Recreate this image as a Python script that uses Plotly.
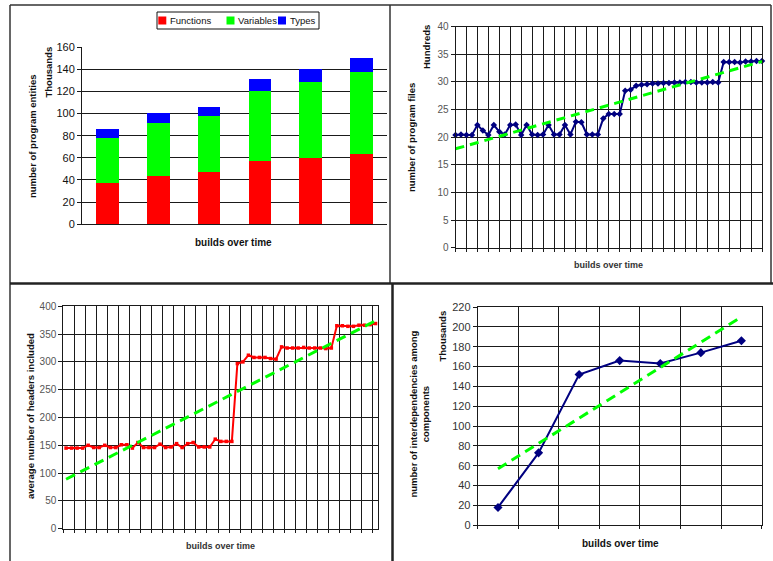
import plotly.graph_objects as go

W, H = 773, 561

# ---------------- data ----------------
# top-left: program entities (thousands) per build
entity_builds = ["build 1", "build 2", "build 3", "build 4", "build 5", "build 6"]
functions = [37, 44, 47, 57, 60, 63]
variables = [41, 47, 51, 63, 68, 74]
types_ = [8, 9, 8, 11, 12, 13]

# top-right: number of program files (hundreds)
program_files = [20.4, 20.5, 20.4, 20.4, 22.2, 21.2, 20.4, 22.2, 21.0, 20.5,
                 22.2, 22.3, 20.4, 22.2, 20.5, 20.4, 20.5, 22.2, 20.5, 20.5,
                 22.2, 20.5, 22.8, 22.7, 20.5, 20.5, 20.5, 23.4, 24.2, 24.2,
                 24.2, 28.4, 28.6, 29.3, 29.5, 29.6, 29.7, 29.7, 29.8, 29.8,
                 29.9, 29.9, 30.0, 30.0, 29.9, 29.9, 29.9, 30.0, 29.9, 33.6,
                 33.6, 33.6, 33.5, 33.7, 33.7, 33.8, 33.8]
files_trend = [17.9, 33.7]

# bottom-left: average number of headers included
headers_included = [145, 145, 145, 145, 150, 146, 146, 150, 146, 146,
                    151, 151, 145, 155, 146, 146, 146, 152, 146, 147,
                    153, 146, 153, 155, 147, 147, 147, 161, 157, 157,
                    157, 297, 300, 312, 308, 308, 308, 306, 305, 327,
                    325, 325, 325, 326, 325, 325, 325, 324, 325, 365,
                    365, 364, 364, 366, 366, 367, 369]
headers_trend = [89, 374]

# bottom-right: interdependencies among components (thousands)
interdeps = [18, 73, 152, 166, 163, 174, 186]
interdeps_trend = [57, 210]

# ---------------- helpers ----------------
def hx(a, b):
    return [a / W, b / W]

def vy(top, bot):
    return [1 - bot / H, 1 - top / H]

FONT = "Liberation Sans, Arial, sans-serif"
NAVY = "#000080"
GREEN = "#00ff00"
GRID = "#1a1a1a"

fig = go.Figure()

# top-left stacked bars
fig.add_trace(go.Bar(x=entity_builds, y=functions, name="Functions",
                     marker=dict(color="#ff0000", line=dict(width=0)), xaxis="x", yaxis="y"))
fig.add_trace(go.Bar(x=entity_builds, y=variables, name="Variables",
                     marker=dict(color="#00ff00", line=dict(width=0)), xaxis="x", yaxis="y"))
fig.add_trace(go.Bar(x=entity_builds, y=types_, name="Types",
                     marker=dict(color="#0000ff", line=dict(width=0)), xaxis="x", yaxis="y"))

# top-right files
n1 = len(program_files)
fig.add_trace(go.Scatter(x=list(range(n1)), y=program_files, mode="lines+markers",
                         line=dict(color=NAVY, width=2),
                         marker=dict(symbol="diamond", size=5, color=NAVY),
                         cliponaxis=False, xaxis="x2", yaxis="y2", name="files"))
fig.add_trace(go.Scatter(x=[0, n1 - 1], y=files_trend, mode="lines",
                         line=dict(color=GREEN, width=3, dash="9px,6px"),
                         xaxis="x2", yaxis="y2", name="files trend"))

# bottom-left headers
n2 = len(headers_included)
fig.add_trace(go.Scatter(x=list(range(n2)), y=headers_included, mode="lines+markers",
                         line=dict(color="#ff0000", width=2),
                         marker=dict(symbol="square", size=3.5, color="#ff0000"),
                         cliponaxis=False, xaxis="x3", yaxis="y3", name="headers"))
fig.add_trace(go.Scatter(x=[0, n2 - 1], y=headers_trend, mode="lines",
                         line=dict(color=GREEN, width=3, dash="10px,6px"),
                         xaxis="x3", yaxis="y3", name="headers trend"))

# bottom-right interdependencies
n3 = len(interdeps)
fig.add_trace(go.Scatter(x=list(range(n3)), y=interdeps, mode="lines+markers",
                         line=dict(color=NAVY, width=2),
                         marker=dict(symbol="diamond", size=7, color=NAVY),
                         xaxis="x4", yaxis="y4", name="interdeps"))
fig.add_trace(go.Scatter(x=[0, n3 - 1], y=interdeps_trend, mode="lines",
                         line=dict(color=GREEN, width=3, dash="10px,6px"),
                         xaxis="x4", yaxis="y4", name="interdeps trend"))

tickfont_dark = dict(family=FONT, size=11, color="#111")
tickfont_grey = dict(family=FONT, size=10, color="#555")

def yax(domain, rng, dtick, anchor, font):
    return dict(domain=domain, range=rng, dtick=dtick, anchor=anchor,
                showgrid=True, gridcolor=GRID, gridwidth=1,
                showline=True, linecolor=GRID, linewidth=1,
                ticks="outside", ticklen=4, tickcolor=GRID,
                tickfont=font, zeroline=False, fixedrange=True, automargin=False)

def xax(domain, anchor, rng, tick0, dtick):
    return dict(domain=domain, anchor=anchor, range=rng, tick0=tick0, dtick=dtick,
                showticklabels=False, showgrid=True, gridcolor=GRID, gridwidth=1,
                showline=True, mirror=True, linecolor=GRID, linewidth=1,
                ticks="outside", ticklen=3, tickcolor=GRID, zeroline=False, automargin=False)

layout = dict(
    template="none",
    width=W, height=H,
    margin=dict(l=0, r=0, t=0, b=0, pad=0, autoexpand=False),
    paper_bgcolor="white", plot_bgcolor="white",
    showlegend=False, barmode="stack", bargap=0.555,
    font=dict(family=FONT, color="#111"),
    xaxis=dict(domain=hx(82, 387), anchor="y", showticklabels=False, showgrid=False,
               showline=True, linecolor=GRID, linewidth=1, ticks="", zeroline=False,
               automargin=False),
    yaxis=yax(vy(47, 224.3), [0, 160], 20, "x", tickfont_dark),
    xaxis2=xax(hx(455.5, 762), "y2", [0, n1 - 1], 0, 2),
    yaxis2=dict(yax(vy(26.7, 247.7), [0, 40], 5, "x2", tickfont_grey), mirror=True),
    xaxis3=xax(hx(63.3, 378.3), "y3", [-0.5, n2 - 0.5], -0.5, 2),
    yaxis3=dict(yax(vy(306.3, 528.7), [0, 400], 50, "x3", tickfont_grey), mirror=True),
    xaxis4=xax(hx(477.7, 761.7), "y4", [-0.5, n3 - 0.5], -0.5, 1),
    yaxis4=dict(yax(vy(307, 525.3), [0, 220], 20, "x4", dict(family=FONT, size=11, color="#333")), mirror=True),
)
fig.update_layout(**layout)

# ---------------- annotations (titles, legend text) ----------------
def ann(text, x, y, size=9.5, angle=0, bold=True, color="#111", xanchor="center"):
    t = "<b>%s</b>" % text if bold else text
    fig.add_annotation(text=t, x=x / W, y=1 - y / H, xref="paper", yref="paper",
                       showarrow=False, textangle=angle, xanchor=xanchor, yanchor="middle",
                       font=dict(family=FONT, size=size, color=color))

# top-left
ann("number of program entities", 32, 136, size=9.5, angle=-90)
ann("Thousands", 48, 72.5, size=9.5, angle=-90)
ann("builds over time", 234, 243, size=10)
# top-right
ann("Hundreds", 426.5, 47.5, size=9.5, angle=-90)
ann("number of program files", 411.5, 137.5, size=9.5, angle=-90)
ann("builds over time", 608, 264.5, size=9, color="#333")
# bottom-left
ann("average number of headers included", 30, 416, size=9.5, angle=-90)
ann("builds over time", 221, 545.5, size=9, color="#333")
# bottom-right
ann("number of interdependencies among<br>components", 419, 414.5, size=9.5, angle=-90)
ann("Thousands", 442, 335.5, size=9.5, angle=-90)
ann("builds over time", 620, 543, size=10)

# manual legend for the bar chart
legend_items = [("Functions", "#ff0000", 158.3, 168.3),
                ("Variables", "#00ff00", 226.5, 236.0),
                ("Types", "#0000ff", 278.0, 287.5)]
shapes = []
shapes.append(dict(type="rect", xref="paper", yref="paper",
                   x0=157 / W, x1=319 / W, y0=1 - 29 / H, y1=1 - 12 / H,
                   line=dict(color="#111", width=1), fillcolor="white"))
for name, col, sx, tx in legend_items:
    shapes.append(dict(type="rect", xref="paper", yref="paper",
                       x0=sx / W, x1=(sx + 8) / W, y0=1 - 24.5 / H, y1=1 - 16.5 / H,
                       line=dict(width=0), fillcolor=col))
    ann(name, tx, 20.5, size=9.5, bold=False, xanchor="left")

# panel borders
def seg(x0, y0, x1, y1, w=1.5, c="#333"):
    return dict(type="line", xref="paper", yref="paper",
                x0=x0 / W, x1=x1 / W, y0=1 - y0 / H, y1=1 - y1 / H,
                line=dict(color=c, width=w))

shapes += [
    seg(10, 5, 10, 561),
    seg(10, 5, 771, 5),
    seg(771, 5, 771, 283),
    seg(390, 5, 390, 283),
    seg(10, 283.5, 773, 283.5, w=2.5, c="#222"),
    seg(392.5, 283, 392.5, 561, w=2.5, c="#222"),
]
fig.update_layout(shapes=shapes)

fig.write_html("out.html",
               config={"displayModeBar": False, "staticPlot": True},
               post_script="document.body.style.margin='0';document.body.style.padding='0';"
                           "document.documentElement.style.overflow='hidden';"
                           "document.body.style.overflow='hidden';")
